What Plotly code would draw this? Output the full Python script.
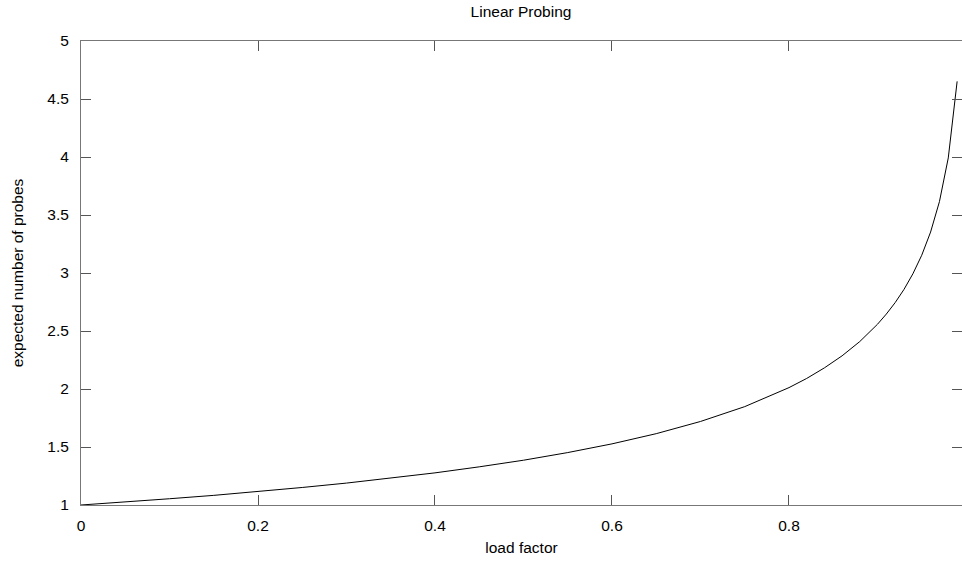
import plotly.graph_objects as go

load_factor = [0.0, 0.01, 0.05, 0.1, 0.15, 0.2, 0.25, 0.3, 0.35, 0.4, 0.45, 0.5, 0.55,
               0.6, 0.65, 0.7, 0.75, 0.8, 0.82, 0.84, 0.86, 0.88, 0.9, 0.91, 0.92,
               0.93, 0.94, 0.95, 0.96, 0.97, 0.98, 0.99]
expected_probes = [1.0, 1.005, 1.026, 1.054, 1.083, 1.116, 1.151, 1.189, 1.231, 1.277,
                   1.329, 1.386, 1.452, 1.527, 1.615, 1.720, 1.848, 2.012, 2.091, 2.182,
                   2.286, 2.409, 2.558, 2.646, 2.745, 2.859, 2.993, 3.153, 3.353, 3.615,
                   3.992, 4.652]

x_ticks = [0, 0.2, 0.4, 0.6, 0.8, 1]
x_tick_labels = ["0", "0.2", "0.4", "0.6", "0.8", "1"]
y_ticks = [1, 1.5, 2, 2.5, 3, 3.5, 4, 4.5, 5]
y_tick_labels = ["1", "1.5", "2", "2.5", "3", "3.5", "4", "4.5", "5"]

font = "Liberation Sans, Arial, sans-serif"
FS = 15.5

fig = go.Figure()
fig.add_trace(go.Scatter(x=load_factor, y=expected_probes, mode="lines",
                         line=dict(color="black", width=1), showlegend=False,
                         cliponaxis=True))

axis_common = dict(
    showgrid=False, zeroline=False, showline=True, linecolor="#777", linewidth=1,
    mirror="ticks", ticks="inside", ticklen=10, tickcolor="#555", tickwidth=1,
    tickfont=dict(family=font, size=FS, color="black"),
)

fig.update_layout(
    width=962, height=562,
    margin=dict(l=81, r=0, t=41, b=57),
    paper_bgcolor="white", plot_bgcolor="white",
    title=dict(text="Linear Probing", x=0.5416, xanchor="center", y=0.979, yanchor="middle",
               font=dict(family=font, size=FS, color="black")),
    xaxis=dict(range=[0, 0.9955], tickvals=x_ticks, ticktext=x_tick_labels,
               ticklabelstandoff=6,
               title=dict(text="load factor", font=dict(family=font, size=FS, color="black"),
                          standoff=9),
               **axis_common),
    yaxis=dict(range=[1, 5], tickvals=y_ticks, ticktext=y_tick_labels,
               ticklabelstandoff=8,
               title=dict(text="expected number of probes",
                          font=dict(family=font, size=FS, color="black"), standoff=19),
               **axis_common),
)

fig.write_html("out.html", config={"displayModeBar": False},
               post_script="document.body.style.margin='0';document.body.style.overflow='hidden';")
